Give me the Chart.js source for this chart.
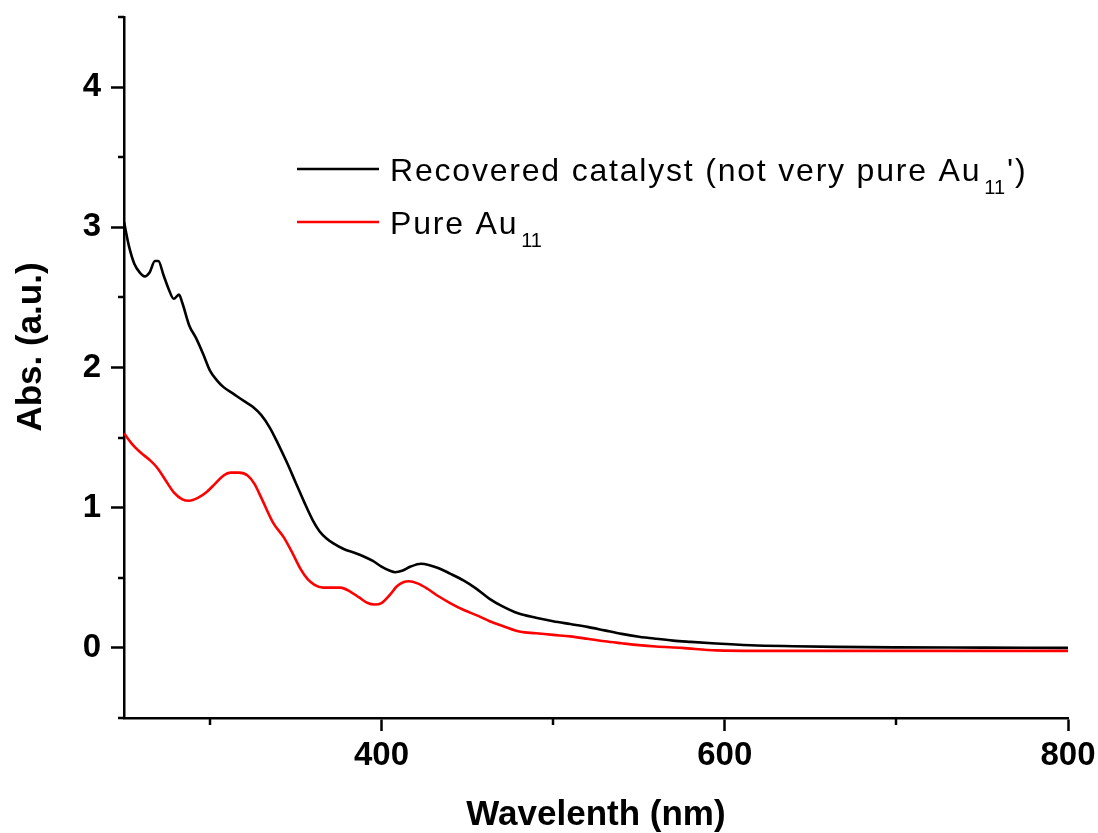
<!DOCTYPE html>
<html><head><meta charset="utf-8">
<script src="https://cdn.jsdelivr.net/npm/chart.js@4/dist/chart.umd.min.js"></script>
<style>html,body{margin:0;padding:0;background:#fff;}</style>
</head><body>
<canvas id="c" width="1098" height="833"></canvas>
<script>
// ---- data ----
const wlRecovered = [250,253,256,259,262,265,268,270,273,276,279,282,284,288,292,296,300,304,308,314,320,325,330,335,340,345,350,355,360,364,368,372,378,385,390,395,400,405,408,412,417,423,428,433,440,448,455,463,470,480,490,500,510,520,530,540,550,560,570,580,595,615,640,665,700,750,800];
const absRecovered = [3.04,2.86,2.74,2.68,2.65,2.68,2.76,2.76,2.66,2.56,2.49,2.52,2.46,2.30,2.21,2.10,1.98,1.91,1.86,1.81,1.76,1.72,1.66,1.57,1.45,1.32,1.18,1.04,0.91,0.83,0.78,0.745,0.705,0.675,0.65,0.62,0.58,0.55,0.54,0.55,0.58,0.60,0.59,0.57,0.53,0.48,0.425,0.35,0.30,0.245,0.215,0.19,0.17,0.15,0.125,0.10,0.08,0.065,0.052,0.043,0.031,0.019,0.012,0.007,0.004,0.002,0.0];
const wlPure = [250,255,260,265,269,274,279,284,288,293,298,303,308,312,317,322,326,330,337,343,348,353,357,361,366,372,376,382,387,392,396,400,405,409,413,416,421,427,433,440,448,456,463,471,481,490,500,510,520,530,540,550,560,575,595,620,700,800];
const absPure = [1.53,1.45,1.39,1.34,1.29,1.20,1.11,1.06,1.05,1.07,1.11,1.17,1.23,1.25,1.25,1.23,1.17,1.07,0.89,0.79,0.68,0.56,0.49,0.45,0.43,0.43,0.43,0.40,0.36,0.32,0.31,0.32,0.38,0.44,0.47,0.475,0.46,0.42,0.37,0.32,0.27,0.23,0.19,0.155,0.115,0.105,0.093,0.082,0.065,0.047,0.033,0.02,0.01,0.0,-0.018,-0.021,-0.021,-0.021];
const xTickValues = [300,400,500,600,700,800];
const xLabelledTicks = [400,600,800];
const yLabelledTicks = [0,1,2,3,4];
const legendMain = ["Recovered catalyst (not very pure Au", "Pure Au"];
const legendSub = ["11", "11"];
const legendTail = ["')", ""];
const xTitle = "Wavelenth (nm)";
const yTitle = "Abs. (a.u.)";

const toXY = (xs, ys) => xs.map((x, i) => ({x, y: ys[i]}));
const isLabelledX = v => xLabelledTicks.includes(v);
const isLabelledY = v => yLabelledTicks.some(t => Math.abs(t - v) < 1e-6);

const extras = {
  id: 'extras',
  afterDraw(chart) {
    const ctx = chart.ctx;
    const xs = chart.scales.x, ys = chart.scales.y;
    const ca = chart.chartArea;
    ctx.save();
    ctx.strokeStyle = '#000';
    ctx.lineWidth = 2.5;
    // minor ticks
    xs.ticks.forEach(t => {
      if (!isLabelledX(t.value)) {
        const px = Math.round(xs.getPixelForValue(t.value));
        ctx.beginPath(); ctx.moveTo(px, ca.bottom); ctx.lineTo(px, ca.bottom + 7); ctx.stroke();
      }
    });
    ys.ticks.forEach(t => {
      if (!isLabelledY(t.value)) {
        const py = Math.round(ys.getPixelForValue(t.value));
        ctx.beginPath(); ctx.moveTo(ca.left - 6, py); ctx.lineTo(ca.left, py); ctx.stroke();
      }
    });
    // axis titles
    ctx.fillStyle = '#000';
    ctx.font = 'bold 35px "Liberation Sans", Arial, sans-serif';
    ctx.textAlign = 'center';
    ctx.textBaseline = 'alphabetic';
    ctx.fillText(xTitle, (ca.left + ca.right) / 2, 825);
    ctx.save();
    ctx.translate(41, 347);
    ctx.rotate(-Math.PI / 2);
    ctx.fillText(yTitle, 0, 0);
    ctx.restore();
    // legend
    const rows = [169, 222];
    chart.data.datasets.forEach((ds, i) => {
      const y = rows[i];
      ctx.strokeStyle = ds.borderColor;
      ctx.lineWidth = 2.5;
      ctx.beginPath(); ctx.moveTo(297, y); ctx.lineTo(379, y); ctx.stroke();
      ctx.fillStyle = '#000';
      ctx.textAlign = 'left';
      ctx.font = '32px "Liberation Sans", Arial, sans-serif';
      ctx.letterSpacing = '1.8px';
      let x = 390;
      const base = y + 12;
      ctx.fillText(legendMain[i], x, base);
      x += ctx.measureText(legendMain[i]).width + 3;
      ctx.font = '20px "Liberation Sans", Arial, sans-serif';
      ctx.letterSpacing = '0px';
      ctx.fillText(legendSub[i], x, base + 13);
      x += ctx.measureText(legendSub[i]).width + 2;
      ctx.font = '32px "Liberation Sans", Arial, sans-serif';
      ctx.letterSpacing = '1.8px';
      if (legendTail[i]) ctx.fillText(legendTail[i], x, base);
    });
    ctx.restore();
  }
};

new Chart(document.getElementById('c'), {
  type: 'line',
  data: {
    datasets: [
      { label: legendMain[0] + legendSub[0] + legendTail[0], data: toXY(wlRecovered, absRecovered), borderColor: '#000000', borderWidth: 2.6, pointRadius: 0, cubicInterpolationMode: 'monotone', fill: false },
      { label: legendMain[1] + legendSub[1], data: toXY(wlPure, absPure), borderColor: '#ff0000', borderWidth: 2.6, pointRadius: 0, cubicInterpolationMode: 'monotone', fill: false }
    ]
  },
  options: {
    responsive: false,
    devicePixelRatio: 1,
    animation: false,
    layout: { padding: { left: 0, right: 30, top: 17, bottom: 0 } },
    plugins: { legend: { display: false }, tooltip: { enabled: false } },
    scales: {
      x: {
        type: 'linear', min: 250, max: 800,
        afterBuildTicks: s => { s.ticks = xTickValues.map(v => ({ value: v })); },
        afterFit: s => { s.height = 115; s.paddingLeft = 0; s.paddingRight = 0; },
        border: { display: true, color: '#000', width: 2.5 },
        grid: { display: true, drawOnChartArea: false, drawTicks: true, tickLength: 13, tickWidth: 2.5,
                tickColor: c => isLabelledX(c.tick.value) ? '#000' : 'rgba(0,0,0,0)' },
        ticks: { autoSkip: false, maxRotation: 0, color: '#000', padding: 5,
                 font: { family: '"Liberation Sans", Arial, sans-serif', size: 33, weight: 'bold' },
                 callback: v => isLabelledX(v) ? String(v) : '' }
      },
      y: {
        type: 'linear', min: -0.5, max: 4.5,
        ticks: { stepSize: 0.5, autoSkip: false, color: '#000', padding: 10,
                 font: { family: '"Liberation Sans", Arial, sans-serif', size: 33, weight: 'bold' },
                 callback: v => isLabelledY(v) ? String(Math.round(v)) : '' },
        afterFit: s => { s.width = 124; s.paddingTop = 0; s.paddingBottom = 0; },
        border: { display: true, color: '#000', width: 2.5 },
        grid: { display: true, drawOnChartArea: false, drawTicks: true, tickLength: 13, tickWidth: 2.5,
                tickColor: c => isLabelledY(c.tick.value) ? '#000' : 'rgba(0,0,0,0)' }
      }
    }
  },
  plugins: [extras]
});
</script>
</body></html>
